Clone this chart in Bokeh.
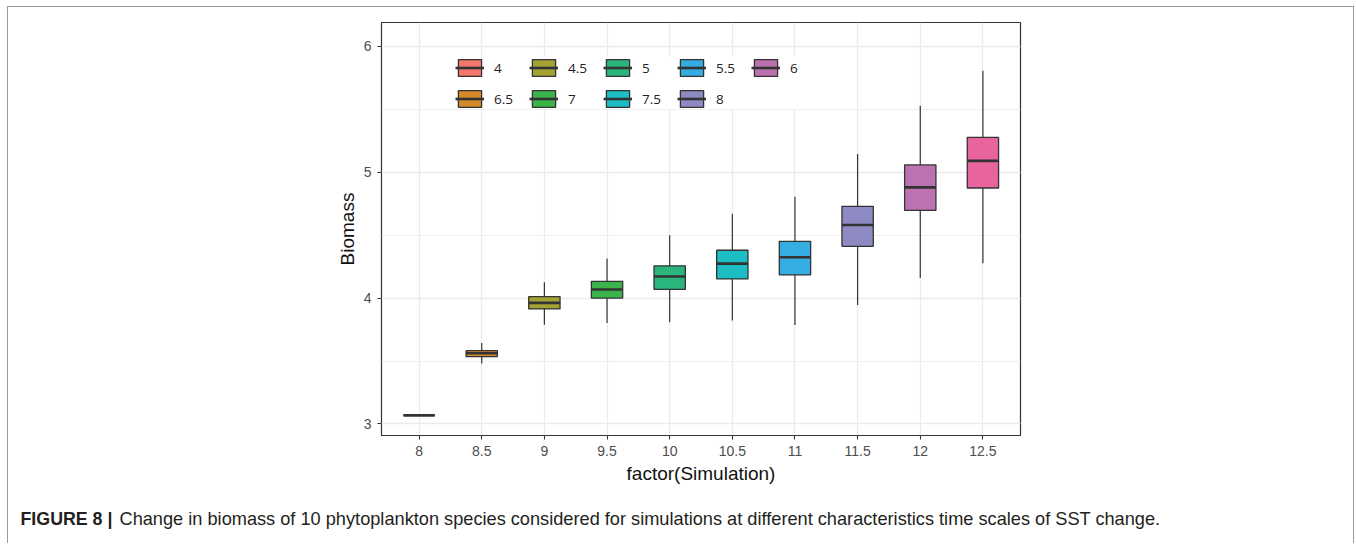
from bokeh.plotting import figure
from bokeh.layouts import column
from bokeh.models import (ColumnDataSource, FactorRange, Range1d, Legend, LegendItem,
                          SingleIntervalTicker, Label)
from bokeh.transform import dodge
from bokeh.embed import file_html
from bokeh.resources import INLINE

# ---------------- data ----------------
simulation = ["8", "8.5", "9", "9.5", "10", "10.5", "11", "11.5", "12", "12.5"]
whisker_low = [3.068, 3.480, 3.789, 3.803, 3.808, 3.821, 3.787, 3.946, 4.160, 4.276]
quartile_1 = [3.068, 3.535, 3.914, 4.000, 4.070, 4.152, 4.184, 4.411, 4.697, 4.875]
median = [3.068, 3.562, 3.962, 4.068, 4.171, 4.274, 4.324, 4.581, 4.880, 5.090]
quartile_3 = [3.068, 3.582, 4.012, 4.133, 4.256, 4.380, 4.451, 4.729, 5.058, 5.277]
whisker_high = [3.068, 3.644, 4.125, 4.314, 4.499, 4.671, 4.806, 5.145, 5.529, 5.807]
box_colors = ["#F2766E", "#D4892A", "#A3A232", "#3AB44A", "#2AB57C",
              "#1CBEC4", "#36ADE1", "#8E8BC4", "#BC71B0", "#E8649F"]

legend_labels = ["4", "4.5", "5", "5.5", "6", "6.5", "7", "7.5", "8"]
legend_color_index = [0, 2, 4, 6, 8, 1, 3, 5, 7]

x_title = "factor(Simulation)"
y_title = "Biomass"
caption_bold = "FIGURE 8 |"
caption_text = ("Change in biomass of 10 phytoplankton species considered for simulations "
                "at different characteristics time scales of SST change.")

W = 1345

# ---------------- chart ----------------
src = ColumnDataSource(dict(sim=simulation, low=whisker_low, q1=quartile_1, med=median,
                            q3=quartile_3, high=whisker_high, color=box_colors))

p = figure(width=W, height=495,
           x_range=FactorRange(factors=simulation, range_padding=0.1,
                               range_padding_units="absolute"),
           y_range=Range1d(2.908, 6.19),
           output_backend="svg", toolbar_location=None,
           min_border_left=373, min_border_right=333,
           min_border_top=15, min_border_bottom=67)
p.frame_align = False

p.background_fill_color = "white"
p.border_fill_color = "white"
p.outline_line_color = "#333333"
p.outline_line_width = 1.2

# grid
p.xgrid.grid_line_color = "#EBEBEB"
p.xgrid.grid_line_width = 1.3
p.ygrid.grid_line_color = "#EBEBEB"
p.ygrid.grid_line_width = 1.3
p.ygrid.minor_grid_line_color = "#EFEFEF"
p.ygrid.minor_grid_line_width = 1.0

# axes
p.yaxis.ticker = SingleIntervalTicker(interval=1, num_minor_ticks=2)
for ax in (p.xaxis[0], p.yaxis[0]):
    ax.axis_line_color = None
    ax.major_tick_line_color = "#333333"
    ax.major_tick_line_width = 1.1
    ax.major_tick_out = 4
    ax.major_tick_in = 0
    ax.minor_tick_line_color = None
    ax.major_label_text_font = "Liberation Sans"
    ax.major_label_text_font_size = "14px"
    ax.major_label_text_color = "#4D4D4D"
    ax.axis_label_text_font = "Liberation Sans"
    ax.axis_label_text_font_size = "19px"
    ax.axis_label_text_font_style = "normal"
    ax.axis_label_text_color = "#111111"
p.xaxis.axis_label = x_title
p.yaxis.axis_label = y_title
p.xaxis.major_label_standoff = 6
p.yaxis.major_label_standoff = 6
p.xaxis.axis_label_standoff = 4
p.yaxis.axis_label_standoff = 3

# boxes
whisk = p.segment(x0="sim", y0="low", x1="sim", y1="high", source=src,
                  line_color="#333333", line_width=1.2)
boxes = p.vbar(x="sim", width=0.5, bottom="q1", top="q3", source=src,
               fill_color="color", line_color="#333333", line_width=1.3)
meds = p.segment(x0=dodge("sim", -0.25, range=p.x_range), y0="med",
                 x1=dodge("sim", 0.25, range=p.x_range), y1="med", source=src,
                 line_color="#333333", line_width=2.6)

items = [LegendItem(label=lab, renderers=[boxes, meds], index=i)
         for lab, i in zip(legend_labels, legend_color_index)]
legend = Legend(items=items, location=(74, 326), orientation="horizontal", ncols=5,
                glyph_width=29, glyph_height=21, label_standoff=10, label_width=25,
                label_height=21, spacing=10, padding=14, margin=0,
                border_line_color=None, background_fill_color="white",
                background_fill_alpha=1.0, label_text_font="Open Sans",
                label_text_font_size="13.5px", label_text_color="#222222")
p.add_layout(legend)

# ---------------- caption strip ----------------
cap_h = 41
cap = figure(width=W, height=cap_h, x_range=Range1d(0, W), y_range=Range1d(0, cap_h),
             x_axis_type=None, y_axis_type=None, output_backend="svg",
             toolbar_location=None, min_border=0)
cap.frame_align = False
cap.outline_line_color = None
cap.grid.visible = False
cap.background_fill_color = "white"
cap.border_fill_color = "white"
cap.add_layout(Label(x=12, y=24.5, text=caption_bold,
                     text_font="Liberation Sans", text_font_size="17.8px",
                     text_font_style="bold", text_baseline="middle", text_color="#231F20"))
cap.add_layout(Label(x=111, y=24.5, text=caption_text,
                     text_font="Liberation Sans", text_font_size="18.2px",
                     text_baseline="middle", text_color="#231F20"))

layout = column(p, cap, spacing=0)
layout.styles = {"margin-left": "7px", "margin-top": "6px",
                 "border-left": "1px solid #9a9a9a", "border-top": "1px solid #9a9a9a",
                 "border-right": "1px solid #9a9a9a"}

open("out.html", "w").write(file_html(layout, INLINE))
